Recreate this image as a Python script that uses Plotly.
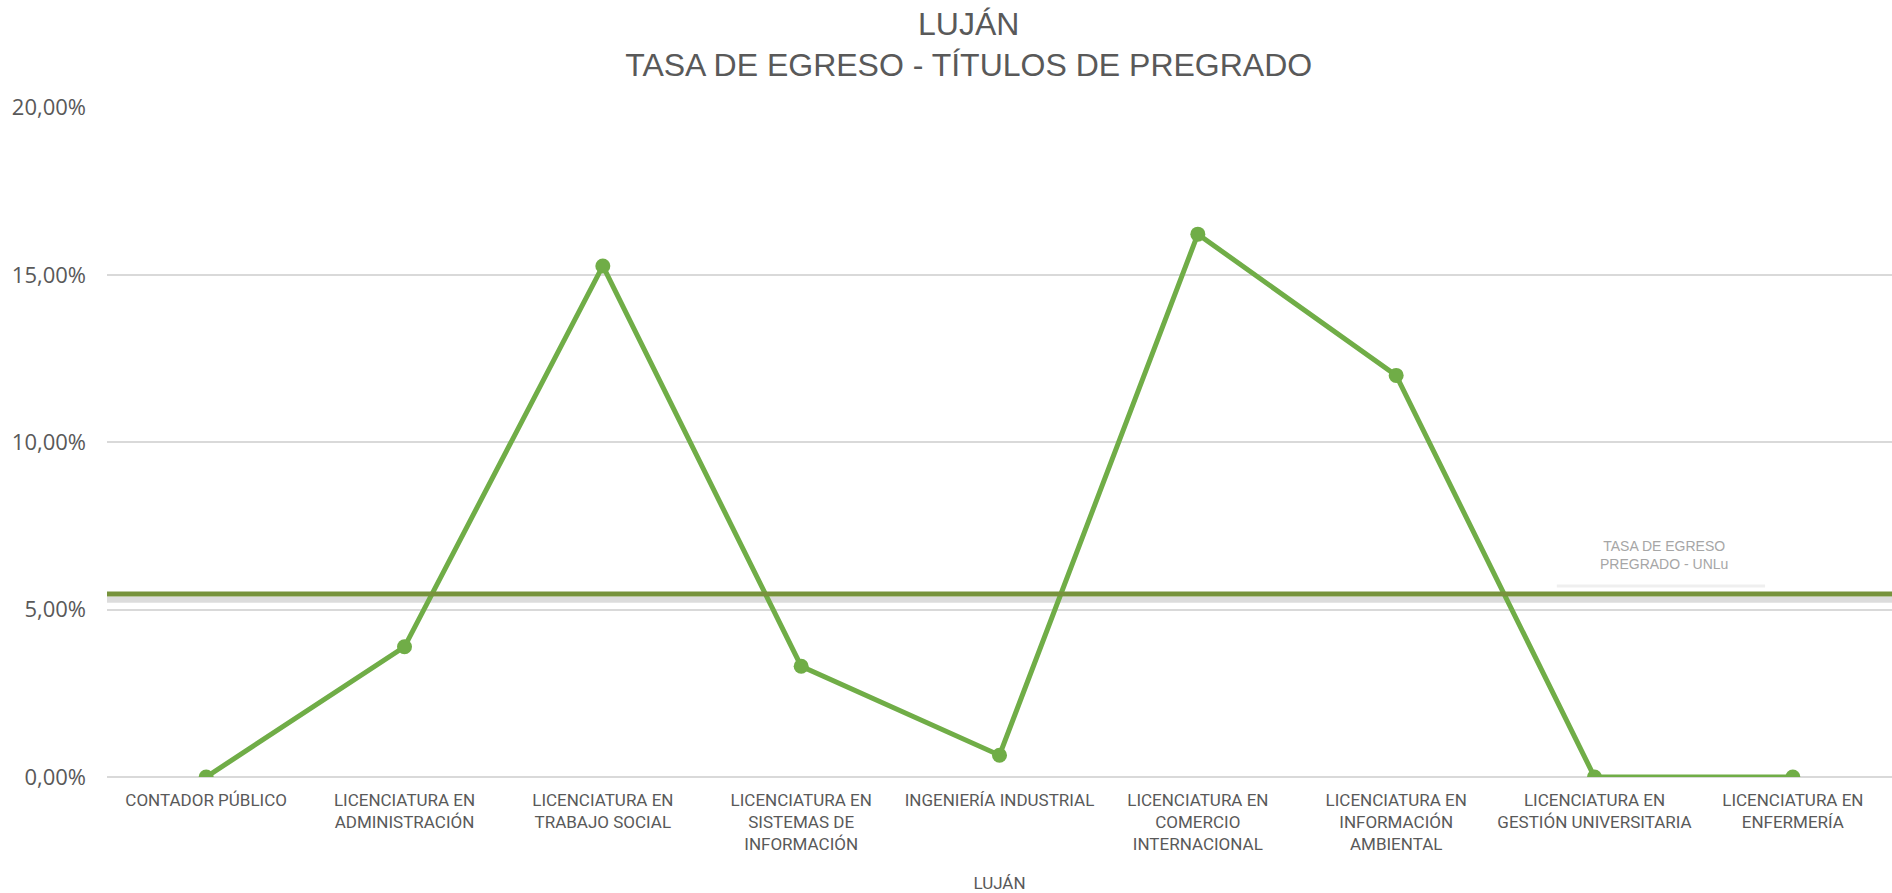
import plotly.graph_objects as go

categories = [
    "CONTADOR PÚBLICO",
    "LICENCIATURA EN<br>ADMINISTRACIÓN",
    "LICENCIATURA EN<br>TRABAJO SOCIAL",
    "LICENCIATURA EN<br>SISTEMAS DE<br>INFORMACIÓN",
    "INGENIERÍA INDUSTRIAL",
    "LICENCIATURA EN<br>COMERCIO<br>INTERNACIONAL",
    "LICENCIATURA EN<br>INFORMACIÓN<br>AMBIENTAL",
    "LICENCIATURA EN<br>GESTIÓN UNIVERSITARIA",
    "LICENCIATURA EN<br>ENFERMERÍA",
]
tasa_egreso = [0.0, 3.89, 15.27, 3.31, 0.65, 16.22, 12.0, 0.0, 0.0]
tasa_unlu = 5.47
y_ticks = [0, 5, 10, 15, 20]
y_tick_labels = ["0,00%", "5,00%", "10,00%", "15,00%", "20,00%"]

fig = go.Figure()
fig.add_trace(go.Scatter(
    x=list(range(len(categories))), y=tasa_egreso, mode="lines+markers",
    line=dict(color="#70AD47", width=5),
    marker=dict(color="#70AD47", size=15),
    showlegend=False, hoverinfo="y",
))

# shadow + UNLu reference line
fig.add_shape(type="line", xref="paper", yref="y", x0=0, x1=1,
              y0=tasa_unlu - 0.17, y1=tasa_unlu - 0.17,
              line=dict(color="#dcdcdc", width=6), layer="below")
fig.add_shape(type="line", xref="x", yref="y", x0=6.81, x1=7.86,
              y0=tasa_unlu + 0.24, y1=tasa_unlu + 0.24,
              line=dict(color="#efefef", width=3), layer="below")
fig.add_shape(type="line", xref="paper", yref="y", x0=0, x1=1,
              y0=tasa_unlu, y1=tasa_unlu,
              line=dict(color="#77933C", width=5))

fig.add_annotation(
    x=7.35, y=tasa_unlu + 1.15, xref="x", yref="y",
    text="TASA DE EGRESO<br>PREGRADO - UNLu", showarrow=False,
    font=dict(family="Liberation Sans, Arial", size=14, color="#a6a6a6"),
    align="center",
)

lbl_font = "Roboto, Liberation Sans"
fig.update_layout(
    width=1892, height=893,
    paper_bgcolor="white", plot_bgcolor="white",
    margin=dict(l=107, r=0, t=107, b=116),
    title=dict(
        text="LUJÁN<br>TASA DE EGRESO - TÍTULOS DE PREGRADO",
        x=0.512, xanchor="center", y=0.961, yanchor="top",
        font=dict(family="Liberation Sans, Arial", size=32, color="#595959"),
    ),
    xaxis=dict(
        tickmode="array", tickvals=list(range(len(categories))), ticktext=categories,
        range=[-0.5, len(categories) - 0.5], showgrid=False, zeroline=False,
        showline=False, ticks="", ticklabelstandoff=11,
        tickfont=dict(family=lbl_font, size=17, color="#595959"),
        title=dict(text="LUJÁN", standoff=27,
                   font=dict(family=lbl_font, size=17, color="#595959")),
    ),
    yaxis=dict(
        range=[0, 20.02], tickmode="array", tickvals=y_ticks, ticktext=y_tick_labels,
        showgrid=True, gridcolor="#d9d9d9", gridwidth=1.5, zeroline=True,
        zerolinecolor="#d9d9d9", zerolinewidth=1.5,
        tickfont=dict(family="Open Sans", size=22, color="#595959"),
        ticklabelstandoff=20,
    ),
)

fig.write_html("out.html", config={"displayModeBar": False},
               post_script="document.body.style.margin='0px';")
